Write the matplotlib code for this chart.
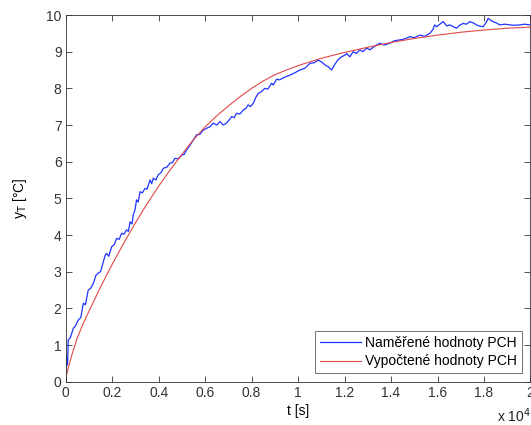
import matplotlib
matplotlib.use("Agg")
import matplotlib.pyplot as plt
from matplotlib.ticker import FuncFormatter

plt.rcParams['font.family'] = ['Liberation Sans', 'DejaVu Sans']

# time in units of 1e4 s
meas_t = [0, 0.003, 0.008, 0.011, 0.02, 0.033, 0.04, 0.054, 0.065, 0.076, 0.085, 0.097, 0.108, 0.119,
          0.13, 0.14, 0.15, 0.162, 0.17, 0.176, 0.185, 0.198, 0.21, 0.219, 0.23, 0.241, 0.25, 0.262,
          0.27, 0.277, 0.285, 0.291, 0.298, 0.305, 0.312, 0.32, 0.33, 0.341, 0.35, 0.363, 0.37, 0.377,
          0.388, 0.398, 0.41, 0.42, 0.435, 0.449, 0.46, 0.47, 0.485, 0.499, 0.51, 0.52, 0.535, 0.549,
          0.563, 0.578, 0.59, 0.606, 0.62, 0.635, 0.65, 0.664, 0.678, 0.692, 0.705, 0.714, 0.725,
          0.735, 0.75, 0.764, 0.775, 0.785, 0.795, 0.807, 0.818, 0.828, 0.84, 0.857, 0.87, 0.886,
          0.893, 0.908, 0.92, 0.94, 0.965, 0.985, 1.008, 1.03, 1.051, 1.07, 1.087, 1.1, 1.108, 1.12,
          1.13, 1.144, 1.155, 1.166, 1.175, 1.187, 1.2, 1.209, 1.223, 1.237, 1.25, 1.266, 1.28, 1.295,
          1.309, 1.33, 1.352, 1.37, 1.395, 1.415, 1.438, 1.46, 1.481, 1.5, 1.524, 1.545, 1.567, 1.58,
          1.588, 1.596, 1.61, 1.624, 1.64, 1.653, 1.668, 1.682, 1.695, 1.71, 1.725, 1.739, 1.755,
          1.768, 1.78, 1.796, 1.81, 1.818, 1.83, 1.839, 1.855, 1.868, 1.89, 1.911, 1.93, 1.954,
          1.975, 1.997]
meas_y = [0.1, 0.68, 0.45, 1.14, 1.2, 1.46, 1.5, 1.68, 1.75, 2.14, 2.1, 2.5, 2.55, 2.68,
          2.9, 2.96, 3.0, 3.27, 3.45, 3.5, 3.42, 3.68, 3.75, 3.91, 3.88, 4.05, 4.02, 4.14,
          4.1, 4.36, 4.3, 4.55, 4.68, 4.96, 4.9, 5.18, 5.15, 5.27, 5.25, 5.5, 5.4, 5.55,
          5.5, 5.64, 5.7, 5.82, 5.85, 5.96, 5.98, 6.09, 6.08, 6.18, 6.2, 6.32, 6.45, 6.59,
          6.73, 6.75, 6.85, 6.91, 6.95, 7.05, 7.0, 7.09, 7.0, 7.05, 7.15, 7.23, 7.2,
          7.32, 7.3, 7.41, 7.45, 7.55, 7.5, 7.59, 7.75, 7.86, 7.9, 8.0, 7.98, 8.14,
          8.09, 8.25, 8.23, 8.3, 8.36, 8.42, 8.5, 8.55, 8.68, 8.7, 8.77, 8.72, 8.68, 8.62,
          8.59, 8.5, 8.62, 8.73, 8.8, 8.86, 8.9, 8.95, 8.86, 9.0, 8.95, 9.05, 9.0, 9.1,
          9.05, 9.15, 9.23, 9.18, 9.23, 9.3, 9.32, 9.35, 9.41, 9.38, 9.45, 9.42, 9.5, 9.6,
          9.73, 9.68, 9.75, 9.82, 9.7, 9.73, 9.68, 9.64, 9.72, 9.77, 9.75, 9.82, 9.78,
          9.73, 9.7, 9.68, 9.8, 9.91, 9.85, 9.82, 9.78, 9.73, 9.75, 9.73, 9.72, 9.73,
          9.75, 9.73]

calc_t = [0, 0.025, 0.05, 0.075, 0.1, 0.15, 0.2, 0.25, 0.3, 0.35, 0.4, 0.45, 0.5, 0.55, 0.6,
          0.65, 0.7, 0.75, 0.8, 0.85, 0.9, 0.95, 1.0, 1.1, 1.2, 1.3, 1.4, 1.5, 1.6, 1.7, 1.8,
          1.9, 2.0]
calc_y = [0.1, 0.7, 1.2, 1.58, 1.92, 2.58, 3.2, 3.78, 4.33, 4.85, 5.33, 5.78, 6.2, 6.6, 6.95,
          7.25, 7.52, 7.77, 8.0, 8.2, 8.37, 8.5, 8.62, 8.82, 8.98, 9.12, 9.25, 9.36, 9.45, 9.53,
          9.59, 9.64, 9.67]

xticks = [0, 0.2, 0.4, 0.6, 0.8, 1.0, 1.2, 1.4, 1.6, 1.8, 2.0]
yticks = list(range(0, 11))

fig = plt.figure(figsize=(5.31, 4.25), dpi=100)
ax = fig.add_axes([0.1237, 0.1019, 0.8753, 0.8628])

ax.plot(meas_t, meas_y, color='#1f33ff', lw=0.9, label='Naměřené hodnoty PCH')
ax.plot(calc_t, calc_y, color='#e04848', lw=0.8, label='Vypočtené hodnoty PCH')

ax.set_xlim(0, 2)
ax.set_ylim(0, 10)
ax.set_xticks(xticks)
ax.set_yticks(yticks)
ax.xaxis.set_major_formatter(FuncFormatter(lambda v, p: '%g' % v))
ax.tick_params(direction='in', top=True, right=True, labelsize=10, length=4, width=0.6,
               colors='#333333', pad=3)
for s in ax.spines.values():
    s.set_linewidth(0.6)
    s.set_color('#333333')

ax.set_xlabel('t [s]', fontsize=10, labelpad=3)
ax.set_ylabel('y$_\\mathrm{T}$ [°C]', fontsize=10, labelpad=12)
fig.text(0.968, 0.0, 'x 10$^4$', fontsize=10, ha='center', va='bottom', color='#222222')

leg = ax.legend(loc='lower right', fontsize=10, frameon=True, fancybox=False,
                edgecolor='#333333', borderaxespad=0.6, handlelength=3.0, borderpad=0.35,
                labelspacing=0.3, handletextpad=0.3)
leg.get_frame().set_linewidth(0.6)

fig.savefig('out.png', dpi=100)
